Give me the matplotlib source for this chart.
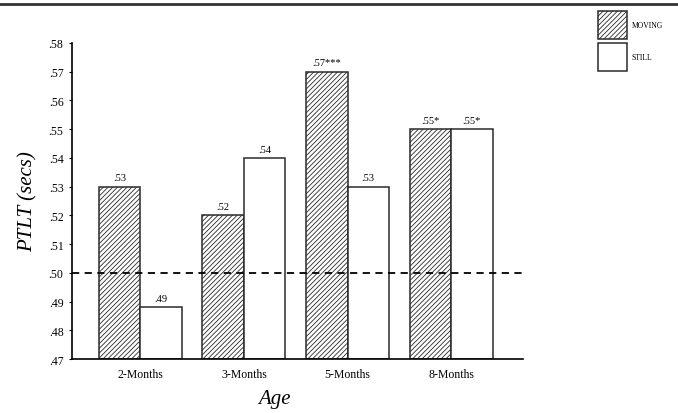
import matplotlib
matplotlib.use("Agg")
import matplotlib.pyplot as plt
import numpy as np
from matplotlib.patches import Rectangle

categories = ["2-Months", "3-Months", "5-Months", "8-Months"]
moving = [0.53, 0.52, 0.57, 0.55]
still = [0.488, 0.54, 0.53, 0.55]
moving_labels = [".53", ".52", ".57***", ".55*"]
still_labels = [".49", ".54", ".53", ".55*"]
yticks = [0.47, 0.48, 0.49, 0.50, 0.51, 0.52, 0.53, 0.54, 0.55, 0.56, 0.57, 0.58]
ytick_labels = [".47", ".48", ".49", ".50", ".51", ".52", ".53", ".54", ".55", ".56", ".57", ".58"]

plt.rcParams['font.family'] = ['Liberation Serif', 'DejaVu Serif']
plt.rcParams['hatch.linewidth'] = 0.6

fig = plt.figure(figsize=(6.78, 4.14), dpi=100)
ax = fig.add_axes([0.106, 0.130, 0.665, 0.764])

x = np.arange(len(categories))
w = 0.4
base = 0.47
ax.bar(x - w/2, np.array(moving) - base, w, bottom=base, facecolor='white',
       edgecolor='#2a2a2a', hatch='///////', linewidth=1.1)
ax.bar(x + w/2, np.array(still) - base, w, bottom=base, facecolor='white',
       edgecolor='#2a2a2a', linewidth=1.1)

for xi, v, l in zip(x, moving, moving_labels):
    ax.text(xi - w/2, v + 0.0015, l, ha='center', va='bottom', fontsize=7.5)
for xi, v, l in zip(x, still, still_labels):
    ax.text(xi + w/2, v + 0.0015, l, ha='center', va='bottom', fontsize=7.5)

ax.axhline(0.50, color='black', linestyle=(0, (4, 3)), linewidth=1.3)

ax.set_xlim(-0.66, 3.69)
ax.set_ylim(0.47, 0.58)
ax.set_yticks(yticks)
ax.set_yticklabels(ytick_labels, fontsize=8.5)
ax.set_xticks(x)
ax.set_xticklabels(categories, fontsize=8.5)
ax.tick_params(axis='x', length=0, pad=6)
ax.tick_params(axis='y', length=2, pad=4)
for s in ['top', 'right']:
    ax.spines[s].set_visible(False)
ax.spines['left'].set_linewidth(1.2)
ax.spines['bottom'].set_linewidth(1.2)
ax.set_ylabel("PTLT (secs)", fontsize=15, style='italic', labelpad=8)
ax.set_xlabel("Age", fontsize=15, style='italic')
ax.xaxis.set_label_coords(0.45, -0.095)

# legend
W, H = 678, 414
def fx(p): return p / W
def fy(p): return 1 - p / H
fig.add_artist(Rectangle((fx(598), fy(40)), fx(29), 28 / H, transform=fig.transFigure,
                         facecolor='white', edgecolor='#2a2a2a', hatch='///////', linewidth=1.1))
fig.add_artist(Rectangle((fx(598), fy(72)), fx(29), 28 / H, transform=fig.transFigure,
                         facecolor='white', edgecolor='#2a2a2a', linewidth=1.1))
fig.text(fx(632), fy(26), "MOVING", fontsize=5.5, va='center', ha='left')
fig.text(fx(632), fy(58), "STILL", fontsize=5.5, va='center', ha='left')

# top rule
fig.add_artist(plt.Line2D([0, 1], [fy(5), fy(5)], transform=fig.transFigure,
                          color='#333333', linewidth=2.0))

fig.savefig("out.png", dpi=100)
